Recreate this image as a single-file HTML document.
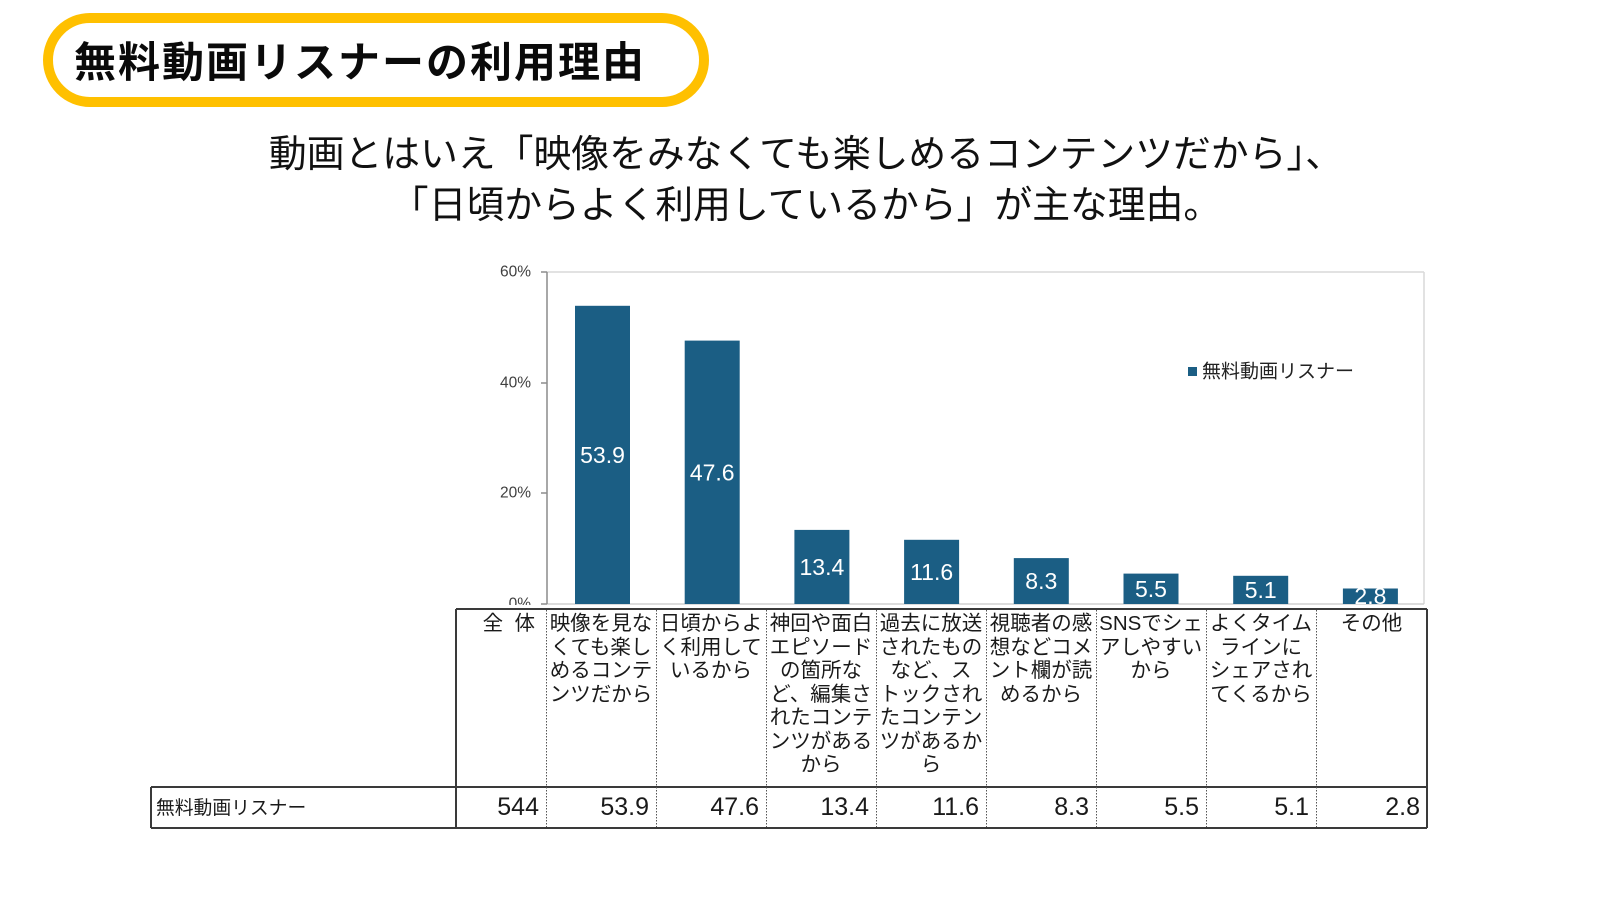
<!DOCTYPE html>
<html><head><meta charset="utf-8">
<style>
*{margin:0;padding:0;box-sizing:border-box}
html,body{width:1600px;height:900px;background:#fff;overflow:hidden}
body{position:relative;font-family:"Liberation Sans","Noto Sans CJK JP",sans-serif;color:#111}
.abs{position:absolute}
.title{left:43px;top:13px;width:666px;height:94px;border:10px solid #FFC000;border-radius:47px}
.title span{position:absolute;left:21px;top:0;line-height:74px;font-size:42px;font-weight:700;letter-spacing:2px;white-space:nowrap;font-family:"Noto Sans CJK JP",sans-serif;color:#0a0a0a}
.sub{left:0;width:1612px;top:130px;text-align:center;font-size:37.8px;line-height:51px;font-family:"Liberation Sans","Noto Sans CJK JP",sans-serif;color:#111;white-space:nowrap}
.hd{position:absolute;top:612px;text-align:center;font-size:20.5px;line-height:23.5px;font-family:"Liberation Sans","Noto Sans CJK JP",sans-serif;color:#1a1a1a;white-space:nowrap}
.val{position:absolute;top:788px;height:39px;line-height:39px;text-align:right;padding-right:7px;font-size:25px;color:#1a1a1a}
</style></head><body>
<div class="abs title"><span>無料動画リスナーの利用理由</span></div>
<div class="abs sub">動画とはいえ「映像をみなくても楽しめるコンテンツだから」、<br>「日頃からよく利用しているから」が主な理由。</div>

<svg class="abs" style="left:0;top:0" width="1600" height="900" xmlns="http://www.w3.org/2000/svg">
  <line x1="547" y1="272" x2="1424" y2="272" stroke="#d9d9d9" stroke-width="1.5"/>
  <line x1="1424" y1="272" x2="1424" y2="604" stroke="#d9d9d9" stroke-width="1.5"/>
  <line x1="547" y1="604" x2="1424" y2="604" stroke="#d0d0d0" stroke-width="1.5"/>
  <line x1="547" y1="272" x2="547" y2="604" stroke="#8c8c8c" stroke-width="1.5"/>
  <g stroke="#8c8c8c" stroke-width="1.5">
    <line x1="541" y1="272" x2="547" y2="272"/>
    <line x1="541" y1="383" x2="547" y2="383"/>
    <line x1="541" y1="493" x2="547" y2="493"/>
    <line x1="541" y1="604" x2="547" y2="604"/>
  </g>
  <g font-family="Liberation Sans, sans-serif" font-size="15.5" fill="#404040" text-anchor="end" dominant-baseline="central">
    <text x="531" y="272">60%</text>
    <text x="531" y="383">40%</text>
    <text x="531" y="493">20%</text>
    <text x="531" y="604">0%</text>
  </g>
  <g fill="#1B5E84">
    <rect x="575" y="305.8" width="55" height="298.2"/>
    <rect x="684.7" y="340.6" width="55" height="263.4"/>
    <rect x="794.4" y="529.9" width="55" height="74.1"/>
    <rect x="904.1" y="539.8" width="55" height="64.2"/>
    <rect x="1013.8" y="558.1" width="55" height="45.9"/>
    <rect x="1123.5" y="573.6" width="55" height="30.4"/>
    <rect x="1233.2" y="575.8" width="55" height="28.2"/>
    <rect x="1342.9" y="588.5" width="55" height="15.5"/>
  </g>
  <g font-family="Liberation Sans, sans-serif" font-size="23" fill="#ffffff" text-anchor="middle" dominant-baseline="central">
    <text x="602.5" y="455">53.9</text>
    <text x="712.2" y="472.3">47.6</text>
    <text x="821.9" y="567">13.4</text>
    <text x="931.6" y="572">11.6</text>
    <text x="1041.3" y="581">8.3</text>
    <text x="1151" y="589">5.5</text>
    <text x="1260.7" y="590">5.1</text>
    <text x="1370.4" y="596">2.8</text>
  </g>
  <rect x="1188" y="367" width="9" height="9" fill="#1B5E84"/>
  <text x="1202" y="372" font-family="Liberation Sans, Noto Sans CJK JP, sans-serif" font-size="19" fill="#222" dominant-baseline="central">無料動画リスナー</text>

  <rect x="447" y="605" width="990" height="4" fill="#fff"/>
  <g stroke="#3a3a3a" stroke-width="2" fill="none">
    <line x1="456" y1="609" x2="1427" y2="609"/>
    <line x1="151" y1="787" x2="1427" y2="787"/>
    <line x1="151" y1="828" x2="1427" y2="828"/>
    <line x1="456" y1="609" x2="456" y2="828"/>
    <line x1="151" y1="787" x2="151" y2="828"/>
    <line x1="1427" y1="609" x2="1427" y2="828"/>
  </g>
  <g stroke="#555" stroke-width="1" stroke-dasharray="1.5,1.5">
    <line x1="546.5" y1="610" x2="546.5" y2="827"/>
    <line x1="656.5" y1="610" x2="656.5" y2="827"/>
    <line x1="766.5" y1="610" x2="766.5" y2="827"/>
    <line x1="876.5" y1="610" x2="876.5" y2="827"/>
    <line x1="986.5" y1="610" x2="986.5" y2="827"/>
    <line x1="1096.5" y1="610" x2="1096.5" y2="827"/>
    <line x1="1206.5" y1="610" x2="1206.5" y2="827"/>
    <line x1="1316.5" y1="610" x2="1316.5" y2="827"/>
  </g>
</svg>

<div class="hd" style="left:456px;width:90px;text-align:right;padding-right:11px">全&nbsp;&nbsp;体</div>
<div class="hd" style="left:546px;width:110px">映像を見な<br>くても楽し<br>めるコンテ<br>ンツだから</div>
<div class="hd" style="left:656px;width:110px">日頃からよ<br>く利用して<br>いるから</div>
<div class="hd" style="left:766px;width:110px">神回や面白<br>エピソード<br>の箇所な<br>ど、編集さ<br>れたコンテ<br>ンツがある<br>から</div>
<div class="hd" style="left:876px;width:110px">過去に放送<br>されたもの<br>など、ス<br>トックされ<br>たコンテン<br>ツがあるか<br>ら</div>
<div class="hd" style="left:986px;width:110px">視聴者の感<br>想などコメ<br>ント欄が読<br>めるから</div>
<div class="hd" style="left:1096px;width:110px">SNSでシェ<br>アしやすい<br>から</div>
<div class="hd" style="left:1206px;width:110px">よくタイム<br>ラインに<br>シェアされ<br>てくるから</div>
<div class="hd" style="left:1316px;width:111px">その他</div>

<div class="abs" style="left:156px;top:788px;height:39px;line-height:39px;font-size:18.8px;font-family:'Liberation Sans','Noto Sans CJK JP',sans-serif;color:#1a1a1a">無料動画リスナー</div>
<div class="val" style="left:456px;width:90px">544</div>
<div class="val" style="left:546px;width:110px">53.9</div>
<div class="val" style="left:656px;width:110px">47.6</div>
<div class="val" style="left:766px;width:110px">13.4</div>
<div class="val" style="left:876px;width:110px">11.6</div>
<div class="val" style="left:986px;width:110px">8.3</div>
<div class="val" style="left:1096px;width:110px">5.5</div>
<div class="val" style="left:1206px;width:110px">5.1</div>
<div class="val" style="left:1316px;width:111px">2.8</div>
</body></html>
